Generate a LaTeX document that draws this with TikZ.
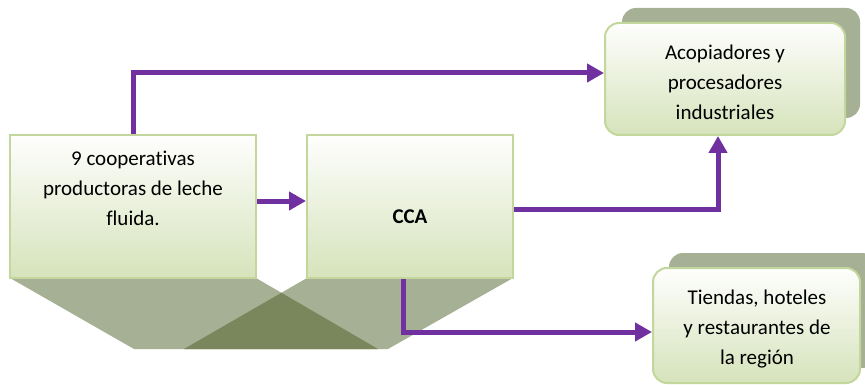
\documentclass[tikz,border=0pt]{standalone}
\usepackage{fontspec}
\setmainfont{Carlito}[Ligatures={NoCommon,NoRequired,NoContextual}]
\usetikzlibrary{arrows.meta,calc}
\definecolor{flowpurple}{HTML}{7030A0}
\definecolor{boxborder}{HTML}{C3D69B}
\definecolor{boxtop}{HTML}{FEFEFD}
\definecolor{boxbottom}{HTML}{D6E3BB}
\definecolor{shadowgreen}{HTML}{A5B094}
\definecolor{darkgreen}{HTML}{7A875C}
\tikzset{
  greenbox/.style={draw=boxborder, line width=2pt, top color=boxtop, bottom color=boxbottom, inner sep=0pt},
  roundbox/.style={greenbox, rounded corners=14pt},
  shadowbox/.style={fill=shadowgreen, draw=none, rounded corners=14pt, inner sep=0pt},
  boxtext/.style={align=center, font=\fontsize{21}{30}\selectfont, inner sep=0pt},
  flow/.style={draw=flowpurple, line width=5pt, -{Triangle[length=17pt,width=18pt]}}
}
\begin{document}
\begin{tikzpicture}[x=1pt,y=-1pt]
\useasboundingbox (0,0) rectangle (865,385);
% base trapezoids
\coordinate (la) at (10,278); \coordinate (lb) at (256,278);
\coordinate (lc) at (378,349); \coordinate (ld) at (134,349);
\coordinate (ra) at (307,278); \coordinate (rb) at (513,278);
\coordinate (rc) at (388,349); \coordinate (rd) at (184,349);
\fill[shadowgreen] (la) -- (lb) -- (lc) -- (ld) -- cycle;
\fill[shadowgreen] (ra) -- (rb) -- (rc) -- (rd) -- cycle;
\coordinate (apex) at (intersection of lb--lc and ra--rd);
\fill[darkgreen] (apex) -- (lc) -- (rd) -- cycle;
% shadows
\node[shadowbox, minimum width=238pt, minimum height=110pt] (sh3) at (741,63) {};
\node[shadowbox, minimum width=207pt, minimum height=115pt] (sh4) at (772.5,310.5) {};
% boxes
\node[greenbox, minimum width=246pt, minimum height=143pt] (box1) at (133,206.5) {};
\node[boxtext] (t1) at (133,188.5) {9 cooperativas\\productoras de leche\\fluida.};
\node[greenbox, minimum width=206pt, minimum height=143pt] (box2) at (410,206.5) {};
\node[boxtext, font=\fontsize{21}{30}\selectfont\bfseries] (t2) at (410,217) {CCA};
\node[roundbox, minimum width=240pt, minimum height=112pt] (box3) at (725,79) {};
\node[boxtext] (t3) at (725,82) {Acopiadores y\\procesadores\\industriales};
\node[roundbox, minimum width=207pt, minimum height=115pt] (box4) at (756.5,325.5) {};
\node[boxtext] (t4) at (757,329) {Tiendas, hoteles\\y restaurantes de\\la región};
% connectors
\draw[flow] (box1.north) |- ([yshift=6pt]box3.west);
\draw[flow] ([yshift=5.5pt]box1.east) -- ([yshift=5.5pt]box2.west);
\draw[flow] ([yshift=-2.5pt]box2.east) -| ([xshift=-7pt]box3.south);
\draw[flow] ([xshift=-7pt]box2.south) |- ([yshift=-6.5pt]box4.west);
\end{tikzpicture}
\end{document}
